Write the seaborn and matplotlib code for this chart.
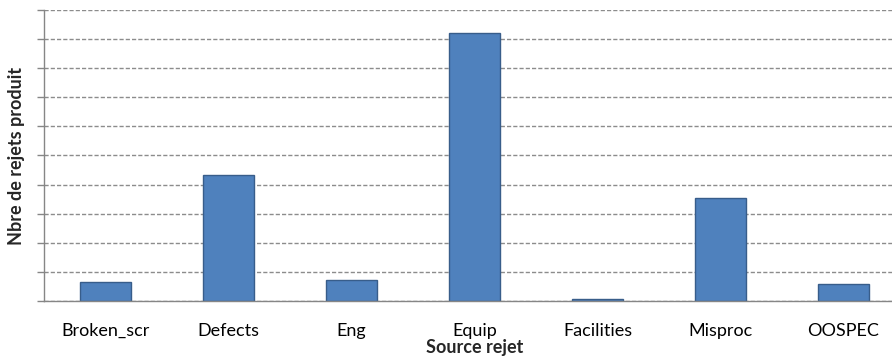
import numpy as np
import pandas as pd
import matplotlib
matplotlib.use("Agg")
import matplotlib.pyplot as plt
import seaborn as sns

# categories and values (y axis unlabeled, grid step = 100)
sources = ["Broken_scr", "Defects", "Eng", "Equip", "Facilities", "Misproc", "OOSPEC"]
rejets = [65, 433, 72, 922, 7, 354, 58]

df = pd.DataFrame({"Source rejet": sources, "Nbre de rejets produit": rejets})

sns.set_style("white")
plt.rcParams["font.family"] = ["Lato", "DejaVu Sans"]

fig = plt.figure(figsize=(8.92, 3.64), dpi=100)
ax = fig.add_axes([44 / 892, 63 / 364, 861 / 892, 291 / 364])

sns.barplot(data=df, x="Source rejet", y="Nbre de rejets produit", ax=ax,
            color="#4F81BD", edgecolor="#385D8A", linewidth=1, width=0.41,
            saturation=1)

ax.set_ylim(0, 1000)
ax.set_xlim(-0.5, len(sources) - 0.5)
ax.set_yticks(np.arange(0, 1001, 100))
ax.set_yticklabels([])
ax.yaxis.grid(True, color="#8c8c8c", linestyle=(0, (3, 1.5)), linewidth=1)
ax.set_axisbelow(True)

# Excel-style ticks between categories
ax.set_xticks(np.arange(len(sources)))
ax.set_xticklabels(sources, fontsize=13, color="#000000")
ax.set_xticks(np.arange(-0.5, len(sources)), minor=True)
ax.tick_params(axis="x", which="major", length=0, pad=16)
ax.tick_params(axis="x", which="minor", length=5, width=1, color="#868686", direction="out")
ax.tick_params(axis="y", which="major", length=5, width=1, color="#868686", direction="out", left=True)

for side in ["top", "right"]:
    ax.spines[side].set_visible(False)
for side in ["left", "bottom"]:
    ax.spines[side].set_color("#868686")
    ax.spines[side].set_linewidth(1)

ax.set_xlabel("Source rejet", fontsize=13, fontweight="bold", labelpad=0)
ax.set_ylabel("Nbre de rejets produit", fontsize=13, fontweight="bold", labelpad=5)

fig.savefig("out.png", dpi=100)
